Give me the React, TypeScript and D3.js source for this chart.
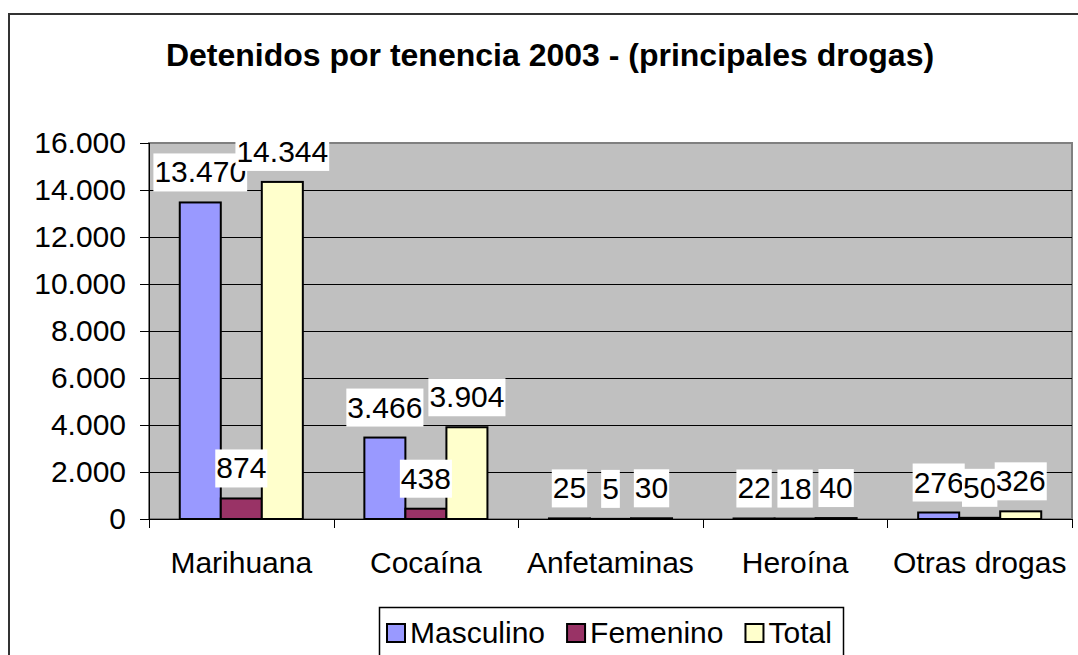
import React, { useEffect, useRef } from 'react';
import * as d3 from 'd3';

const categories = ["Marihuana", "Cocaína", "Anfetaminas", "Heroína", "Otras drogas"];
const seriesNames = ["Masculino", "Femenino", "Total"];
const masculino = [13470, 3466, 25, 22, 276];
const femenino = [874, 438, 5, 18, 50];
const total = [14344, 3904, 30, 40, 326];
const seriesColors = ["#9999ff", "#993366", "#ffffcc"];
const yTicks = [0, 2000, 4000, 6000, 8000, 10000, 12000, 14000, 16000];

const title = "Detenidos por tenencia 2003 - (principales drogas)";
const FONT = "Arial, 'Liberation Sans', sans-serif";

const App: React.FC = () => {
  const svgRef = useRef<SVGSVGElement>(null);

  useEffect(() => {
    if (!svgRef.current) return;
    const svg = d3.select(svgRef.current);
    svg.selectAll("*").remove();

    const W = 1078;
    const H = 655;
    const plot = { left: 149, right: 1072, top: 143, bottom: 519 };

    const locale = d3.formatLocale({ decimal: ",", thousands: ".", grouping: [3], currency: ["", ""] });
    const fmt = locale.format(",d");

    const series = [masculino, femenino, total];

    const x = d3.scaleBand<string>()
      .domain(categories)
      .range([plot.left, plot.right])
      .paddingInner(1 / 3)
      .paddingOuter(1 / 6);

    const xs = d3.scaleBand<number>()
      .domain(d3.range(seriesNames.length))
      .range([0, x.bandwidth()]);

    const y = d3.scaleLinear()
      .domain([0, 16000])
      .range([plot.bottom, plot.top]);

    // background + outer border
    svg.append("rect").attr("x", 0).attr("y", 0).attr("width", W).attr("height", H).attr("fill", "#fff");
    svg.append("rect")
      .attr("x", 9).attr("y", 14).attr("width", 1100).attr("height", 700)
      .attr("fill", "none").attr("stroke", "#333").attr("stroke-width", 2);

    // title
    svg.append("text")
      .attr("x", 550).attr("y", 66)
      .attr("text-anchor", "middle")
      .attr("font-family", FONT).attr("font-size", 32).attr("font-weight", "bold")
      .text(title);

    // plot area
    svg.append("rect")
      .attr("x", plot.left).attr("y", plot.top)
      .attr("width", plot.right - plot.left).attr("height", plot.bottom - plot.top)
      .attr("fill", "#c0c0c0").attr("stroke", "#808080").attr("stroke-width", 2);

    // gridlines
    svg.append("g").selectAll("line")
      .data(yTicks.filter(d => d > 0 && d < 16000))
      .join("line")
      .attr("x1", plot.left).attr("x2", plot.right)
      .attr("y1", d => Math.round(y(d)) + 0.5).attr("y2", d => Math.round(y(d)) + 0.5)
      .attr("stroke", "#000").attr("stroke-width", 1);

    // y axis
    const yAxis = svg.append("g");
    yAxis.append("line")
      .attr("x1", plot.left + 0.5).attr("x2", plot.left + 0.5)
      .attr("y1", plot.top).attr("y2", plot.bottom)
      .attr("stroke", "#000");
    yAxis.selectAll("line.tick")
      .data(yTicks)
      .join("line")
      .attr("class", "tick")
      .attr("x1", plot.left - 9).attr("x2", plot.left)
      .attr("y1", d => Math.round(y(d)) + 0.5).attr("y2", d => Math.round(y(d)) + 0.5)
      .attr("stroke", "#000");
    yAxis.selectAll("text")
      .data(yTicks)
      .join("text")
      .attr("x", 126).attr("y", d => y(d) + 10)
      .attr("text-anchor", "end")
      .attr("font-family", FONT).attr("font-size", 30)
      .text(d => fmt(d));

    // bars
    series.forEach((vals, s) => {
      svg.append("g").selectAll("rect")
        .data(vals)
        .join("rect")
        .attr("x", (d, i) => (x(categories[i]) ?? 0) + (xs(s) ?? 0))
        .attr("y", d => y(d))
        .attr("width", xs.bandwidth())
        .attr("height", d => plot.bottom - y(d))
        .attr("fill", seriesColors[s])
        .attr("stroke", "#000").attr("stroke-width", 2);
    });

    // x axis
    const xAxis = svg.append("g");
    xAxis.append("line")
      .attr("x1", plot.left).attr("x2", plot.right)
      .attr("y1", plot.bottom + 0.5).attr("y2", plot.bottom + 0.5)
      .attr("stroke", "#000");
    const step = x.step();
    xAxis.selectAll("line.tick")
      .data(d3.range(categories.length + 1))
      .join("line")
      .attr("class", "tick")
      .attr("x1", i => Math.round(plot.left + i * step) + 0.5)
      .attr("x2", i => Math.round(plot.left + i * step) + 0.5)
      .attr("y1", plot.bottom).attr("y2", plot.bottom + 9)
      .attr("stroke", "#000");
    xAxis.selectAll("text")
      .data(categories)
      .join("text")
      .attr("x", d => (x(d) ?? 0) + x.bandwidth() / 2)
      .attr("y", 573)
      .attr("text-anchor", "middle")
      .attr("font-family", FONT).attr("font-size", 30)
      .text(d => d);

    // data labels
    series.forEach((vals, s) => {
      vals.forEach((v, i) => {
        const cx = (x(categories[i]) ?? 0) + (xs(s) ?? 0) + xs.bandwidth() / 2;
        const top = y(v);
        const g = svg.append("g");
        const rect = g.append("rect").attr("fill", "#fff");
        const t = g.append("text")
          .attr("x", cx).attr("y", top - 20)
          .attr("text-anchor", "middle")
          .attr("font-family", FONT).attr("font-size", 30)
          .text(fmt(v));
        const w = (t.node() as SVGTextElement).getComputedTextLength();
        rect.attr("x", cx - w / 2 - 1).attr("width", w + 2)
          .attr("y", top - 11 - 38).attr("height", 38);
      });
    });

    // legend
    const leg = svg.append("g");
    leg.append("rect")
      .attr("x", 379.5).attr("y", 607.5).attr("width", 464).attr("height", 60)
      .attr("fill", "#fff").attr("stroke", "#000").attr("stroke-width", 1.5);
    let lx = 386;
    seriesNames.forEach((name, s) => {
      leg.append("rect")
        .attr("x", lx + 1).attr("y", 624).attr("width", 18).attr("height", 18)
        .attr("fill", seriesColors[s]).attr("stroke", "#000").attr("stroke-width", 2);
      const t = leg.append("text")
        .attr("x", lx + 24).attr("y", 643)
        .attr("font-family", FONT).attr("font-size", 30)
        .text(name);
      const w = (t.node() as SVGTextElement).getComputedTextLength();
      lx += 24 + w + 21;
    });
  }, []);

  return (
    <svg
      ref={svgRef}
      width={1078}
      height={655}
      style={{ position: "absolute", left: 0, top: 0, display: "block" }}
    />
  );
};

export default App;
